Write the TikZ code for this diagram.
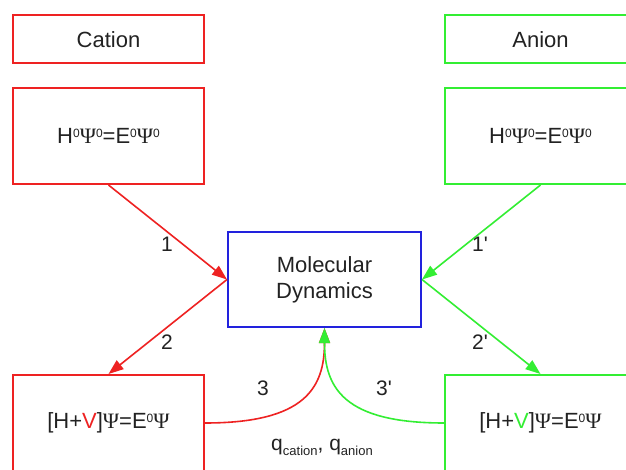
\documentclass[tikz,border=0pt]{standalone}
\usepackage{fontspec}
\setmainfont{Liberation Sans}
\newfontfamily\psifont{Liberation Serif}
\usetikzlibrary{arrows.meta}
\definecolor{cred}{HTML}{EE2222}
\definecolor{cgreen}{HTML}{33EE33}
\definecolor{cblue}{HTML}{2222DD}
\definecolor{ctext}{HTML}{222222}
\begin{document}
\begin{tikzpicture}[x=1pt,y=-1pt,
  box/.style={draw,line width=2pt,minimum width=191pt,inner sep=0pt,text=ctext,font=\fontsize{22}{26}\selectfont,align=center},
  redbox/.style={box,draw=cred},
  greenbox/.style={box,draw=cgreen},
  conn/.style={line width=1.6pt,-{Triangle[length=15pt,width=11pt]}},
  lbl/.style={text=ctext,font=\fontsize{21}{25}\selectfont,inner sep=0pt}]
\useasboundingbox (0,0) rectangle (626,470);
\fill[white] (0,0) rectangle (626,470);
\newcommand{\zz}{\raisebox{6pt}{\fontsize{12}{12}\selectfont 0}}
\newcommand{\ps}{{\psifont Ψ}}
\newcommand{\sbs}[1]{\raisebox{-5pt}{\fontsize{13}{13}\selectfont #1}}
\node[redbox,minimum height=48pt] (cat) at (108.5,39.5) {Cation};
\node[greenbox,minimum height=48pt] (ani) at (540.5,39.5) {Anion};
\node[redbox,minimum height=96pt] (h0l) at (108.5,136) {H\zz\ps\zz=E\zz\ps\zz};
\node[greenbox,minimum height=96pt] (h0r) at (540.5,136) {H\zz\ps\zz=E\zz\ps\zz};
\node[box,draw=cblue,minimum width=193pt,minimum height=95pt] (md) at (324.5,279.5) {Molecular\\Dynamics};
\node[redbox,minimum height=96pt] (botl) at (108.5,423) {[H+\textcolor{cred}{V}]\ps=E\zz\ps};
\node[greenbox,minimum height=96pt] (botr) at (540.5,423) {[H+\textcolor{cgreen}{V}]\ps=E\zz\ps};
\draw[conn,cred] (h0l.south) -- (md.west);
\draw[conn,cred] (md.west) -- (botl.north);
\draw[conn,cgreen] (h0r.south) -- (md.east);
\draw[conn,cgreen] (md.east) -- (botr.north);
\draw[conn,cred] (botl.east) .. controls +(100,0) and +(0,60) .. (md.south);
\draw[conn,cgreen] (botr.west) .. controls +(-100,0) and +(0,60) .. (md.south);
\node[lbl] (l1) at (167,244) {1};
\node[lbl] (l2) at (167,342) {2};
\node[lbl] (l1p) at (480,244) {1\textquotesingle};
\node[lbl] (l2p) at (480,342) {2\textquotesingle};
\node[lbl] (l3) at (263,388) {3};
\node[lbl] (l3p) at (384,388) {3\textquotesingle};
\node[lbl] (q) at (322,447) {q\sbs{cation}, q\sbs{anion}};
\end{tikzpicture}
\end{document}
